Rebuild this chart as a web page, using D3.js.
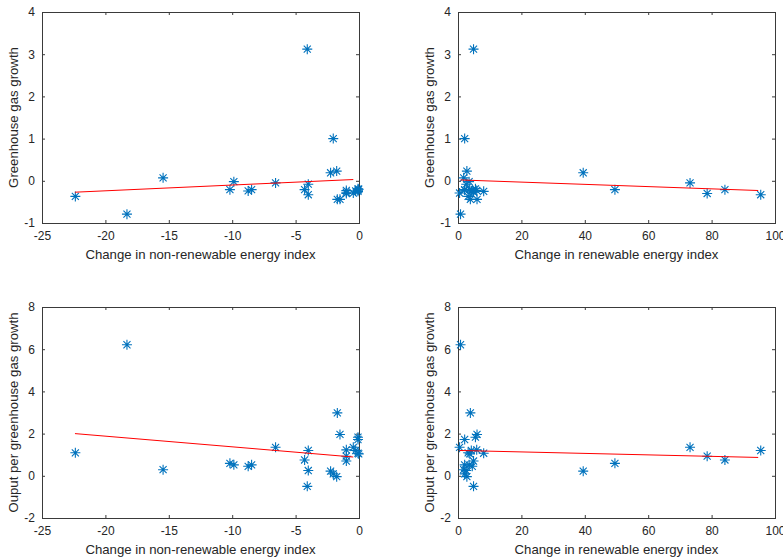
<!DOCTYPE html>
<html>
<head>
<meta charset="utf-8">
<script src="https://cdn.jsdelivr.net/npm/d3@7"></script>
<style>
  html, body { margin: 0; padding: 0; background: #fff; }
  svg { display: block; }
  text { font-family: "Liberation Sans", Arial, Helvetica, sans-serif; fill: #262626; }
</style>
</head>
<body>
<svg id="chart" width="783" height="560"></svg>
<script>
// One entry per country: change in non-renewable / renewable energy index,
// greenhouse gas growth and output per greenhouse gas growth.
const nonRenewableChange = [-22.37, -18.3, -15.45, -10.18, -9.87, -8.74, -8.47, -6.58, -4.29, -4.08,
  -4.0, -4.0, -2.24, -2.03, -1.76, -1.71, -1.5, -1.0, -1.0, -1.0,
  -0.45, -0.26, -0.08, -0.08, -0.08, -0.02];
const renewableChange = [3.2, 0.8, 1.8, 49.5, 3.5, 4.5, 2.1, 73.2, 84.2, 4.9,
  95.5, 2.6, 39.5, 2.1, 2.8, 3.9, 6.0, 5.9, 78.6, 4.9,
  0.5, 4.2, 2.1, 5.5, 8.1, 3.7];
const ghgGrowth = [-0.37, -0.79, 0.07, -0.21, -0.02, -0.24, -0.21, -0.05, -0.21, 3.12,
  -0.33, -0.08, 0.19, 1.0, 0.23, -0.44, -0.44, -0.23, -0.3, -0.27,
  -0.29, -0.24, -0.22, -0.19, -0.25, -0.2];
const outputPerGhg = [1.09, 6.21, 0.29, 0.59, 0.52, 0.45, 0.52, 1.35, 0.75, -0.5,
  1.2, 0.25, 0.22, 0.09, -0.04, 2.98, 1.96, 1.23, 0.93, 0.7,
  1.35, 1.2, 1.72, 1.83, 1.07, 1.04];

// Least-squares fit lines, as [x, y] end points
const fitGhgNonRen = [[-22.4, -0.27], [-0.45, 0.03]];
const fitGhgRen = [[0.8, 0.02], [94.7, -0.23]];
const fitOutNonRen = [[-22.4, 2.0], [-0.45, 0.89]];
const fitOutRen = [[0.5, 1.2], [94.7, 0.87]];

// Tick values
const nonRenewableTicks = [-25, -20, -15, -10, -5, 0];
const renewableTicks = [0, 20, 40, 60, 80, 100];
const ghgTicks = [-1, 0, 1, 2, 3, 4];
const outputTicks = [-2, 0, 2, 4, 6, 8];

const xLabelNonRen = "Change in non-renewable energy index";
const xLabelRen = "Change in renewable energy index";
const yLabelGhg = "Greenhouse gas growth";
const yLabelOut = "Ouput per greenhouse gas growth";

const panels = [
  { left: 42, top: 12, x: nonRenewableChange, y: ghgGrowth, xt: nonRenewableTicks, yt: ghgTicks, fit: fitGhgNonRen, xl: xLabelNonRen, yl: yLabelGhg },
  { left: 458, top: 12, x: renewableChange, y: ghgGrowth, xt: renewableTicks, yt: ghgTicks, fit: fitGhgRen, xl: xLabelRen, yl: yLabelGhg },
  { left: 42, top: 307, x: nonRenewableChange, y: outputPerGhg, xt: nonRenewableTicks, yt: outputTicks, fit: fitOutNonRen, xl: xLabelNonRen, yl: yLabelOut },
  { left: 458, top: 307, x: renewableChange, y: outputPerGhg, xt: renewableTicks, yt: outputTicks, fit: fitOutRen, xl: xLabelRen, yl: yLabelOut }
];

const W = 317, H = 211;
const axisColor = "#3a3a3a";
const markerColor = "#0072BD";
const plainNumber = d => String(d);   // keeps an ASCII hyphen as the minus sign
const svg = d3.select("#chart");

// MATLAB-style '*' marker: a plus overlaid with an x
function asterisk(r) {
  const d = r * Math.SQRT1_2;
  return `M0,${-r}V${r}M${-r},0H${r}M${-d},${-d}L${d},${d}M${-d},${d}L${d},${-d}`;
}

panels.forEach(p => {
  const g = svg.append("g").attr("transform", `translate(${p.left},${p.top})`);
  const xs = d3.scaleLinear().domain(d3.extent(p.xt)).range([0, W]);
  const ys = d3.scaleLinear().domain(d3.extent(p.yt)).range([H, 0]);

  const styleAxis = sel => {
    sel.select(".domain").remove();
    sel.selectAll("line").attr("stroke", axisColor);
    sel.selectAll("text").attr("fill", "#262626").style("font-size", "12px")
      .style("font-family", '"Liberation Sans", Arial, sans-serif');
  };

  g.append("g").attr("transform", `translate(0,${H})`)
    .call(d3.axisBottom(xs).tickValues(p.xt).tickFormat(plainNumber).tickSizeInner(-3).tickSizeOuter(0).tickPadding(8.5))
    .call(styleAxis);
  g.append("g")
    .call(d3.axisTop(xs).tickValues(p.xt).tickFormat("").tickSizeInner(-3).tickSizeOuter(0))
    .call(styleAxis);
  g.append("g")
    .call(d3.axisLeft(ys).tickValues(p.yt).tickFormat(plainNumber).tickSizeInner(-3).tickSizeOuter(0).tickPadding(7))
    .call(styleAxis);
  g.append("g").attr("transform", `translate(${W},0)`)
    .call(d3.axisRight(ys).tickValues(p.yt).tickFormat("").tickSizeInner(-3).tickSizeOuter(0))
    .call(styleAxis);

  // axes box
  g.append("rect").attr("x", 0.5).attr("y", 0.5).attr("width", W).attr("height", H)
    .attr("fill", "none").attr("stroke", axisColor).attr("stroke-width", 1);

  // scatter points
  g.append("g").selectAll("path").data(p.x.map((v, i) => [v, p.y[i]])).join("path")
    .attr("transform", d => `translate(${xs(d[0])},${ys(d[1])})`)
    .attr("d", asterisk(5))
    .attr("fill", "none")
    .attr("stroke", markerColor)
    .attr("stroke-width", 1.1);

  // fit line
  g.append("path").datum(p.fit)
    .attr("d", d3.line().x(d => xs(d[0])).y(d => ys(d[1])))
    .attr("fill", "none").attr("stroke", "#ff0000").attr("stroke-width", 1);

  // axis labels
  g.append("text").attr("x", W / 2).attr("y", H + 36)
    .attr("text-anchor", "middle").style("font-size", "13.2px").text(p.xl);
  g.append("text").attr("transform", `translate(${-24},${H / 2}) rotate(-90)`)
    .attr("text-anchor", "middle").style("font-size", "13.2px").text(p.yl);
});
</script>
</body>
</html>
